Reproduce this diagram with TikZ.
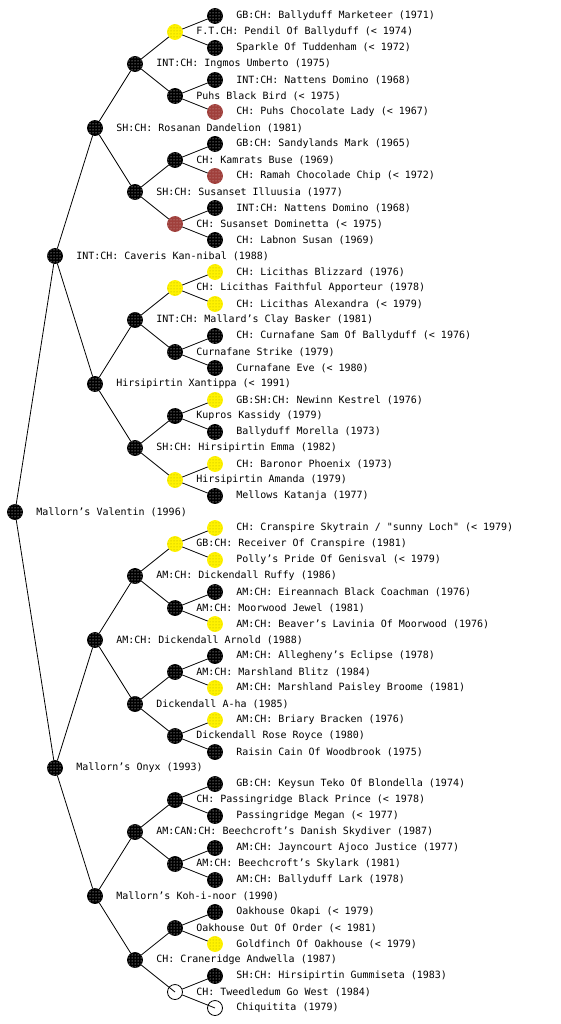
\documentclass[tikz,border=0pt]{standalone}
\usepackage{fontspec}
\newfontfamily\pedfont{DejaVu Sans Mono}
\usetikzlibrary{patterns}
\definecolor{chocred}{RGB}{160,64,60}

\begin{document}
\begin{tikzpicture}[
  x=1pt, y=1pt,
  line width=0.8pt,
  ball/.style={circle, minimum size=15pt, inner sep=0pt},
  dog/.style={ball, draw=black, fill=black, postaction={pattern=dots, pattern color=white}},
  gold/.style={ball, draw=yellow, fill=yellow, postaction={pattern=dots, pattern color=olive!70}},
  choc/.style={ball, draw=chocred, fill=chocred, postaction={pattern=dots, pattern color=white!60!chocred}},
  blank/.style={ball, draw=black},
  every label/.style={font=\pedfont, inner sep=0pt},
  label distance=13pt,
  grow'=right,
  level distance=40pt,
  level 1/.style={sibling distance=512pt},
  level 2/.style={sibling distance=256pt},
  level 3/.style={sibling distance=128pt},
  level 4/.style={sibling distance=64pt},
  level 5/.style={sibling distance=32pt}
]
\useasboundingbox (0,0) rectangle (560,-1024);
\node[dog, label={right:{Mallorn’s Valentin (1996)}}] (dog) at (15,-512) {}
  child {node[dog, label={right:{INT:CH: Caveris Kan-nibal (1988)}}] (s) {}
    child {node[dog, label={right:{SH:CH: Rosanan Dandelion (1981)}}] (ss) {}
      child {node[dog, label={right:{INT:CH: Ingmos Umberto (1975)}}] (sss) {}
        child {node[gold, label={right:{F.T.CH: Pendil Of Ballyduff (< 1974)}}] (ssss) {}
          child {node[dog, label={right:{GB:CH: Ballyduff Marketeer (1971)}}] (sssss) {}}
          child {node[dog, label={right:{Sparkle Of Tuddenham (< 1972)}}] (ssssd) {}}
        }
        child {node[dog, label={right:{Puhs Black Bird (< 1975)}}] (sssd) {}
          child {node[dog, label={right:{INT:CH: Nattens Domino (1968)}}] (sssds) {}}
          child {node[choc, label={right:{CH: Puhs Chocolate Lady (< 1967)}}] (sssdd) {}}
        }
      }
      child {node[dog, label={right:{SH:CH: Susanset Illuusia (1977)}}] (ssd) {}
        child {node[dog, label={right:{CH: Kamrats Buse (1969)}}] (ssds) {}
          child {node[dog, label={right:{GB:CH: Sandylands Mark (1965)}}] (ssdss) {}}
          child {node[choc, label={right:{CH: Ramah Chocolade Chip (< 1972)}}] (ssdsd) {}}
        }
        child {node[choc, label={right:{CH: Susanset Dominetta (< 1975)}}] (ssdd) {}
          child {node[dog, label={right:{INT:CH: Nattens Domino (1968)}}] (ssdds) {}}
          child {node[dog, label={right:{CH: Labnon Susan (1969)}}] (ssddd) {}}
        }
      }
    }
    child {node[dog, label={right:{Hirsipirtin Xantippa (< 1991)}}] (sd) {}
      child {node[dog, label={right:{INT:CH: Mallard’s Clay Basker (1981)}}] (sds) {}
        child {node[gold, label={right:{CH: Licithas Faithful Apporteur (1978)}}] (sdss) {}
          child {node[gold, label={right:{CH: Licithas Blizzard (1976)}}] (sdsss) {}}
          child {node[gold, label={right:{CH: Licithas Alexandra (< 1979)}}] (sdssd) {}}
        }
        child {node[dog, label={right:{Curnafane Strike (1979)}}] (sdsd) {}
          child {node[dog, label={right:{CH: Curnafane Sam Of Ballyduff (< 1976)}}] (sdsds) {}}
          child {node[dog, label={right:{Curnafane Eve (< 1980)}}] (sdsdd) {}}
        }
      }
      child {node[dog, label={right:{SH:CH: Hirsipirtin Emma (1982)}}] (sdd) {}
        child {node[dog, label={right:{Kupros Kassidy (1979)}}] (sdds) {}
          child {node[gold, label={right:{GB:SH:CH: Newinn Kestrel (1976)}}] (sddss) {}}
          child {node[dog, label={right:{Ballyduff Morella (1973)}}] (sddsd) {}}
        }
        child {node[gold, label={right:{Hirsipirtin Amanda (1979)}}] (sddd) {}
          child {node[gold, label={right:{CH: Baronor Phoenix (1973)}}] (sddds) {}}
          child {node[dog, label={right:{Mellows Katanja (1977)}}] (sdddd) {}}
        }
      }
    }
  }
  child {node[dog, label={right:{Mallorn’s Onyx (1993)}}] (d) {}
    child {node[dog, label={right:{AM:CH: Dickendall Arnold (1988)}}] (ds) {}
      child {node[dog, label={right:{AM:CH: Dickendall Ruffy (1986)}}] (dss) {}
        child {node[gold, label={right:{GB:CH: Receiver Of Cranspire (1981)}}] (dsss) {}
          child {node[gold, label={right:{CH: Cranspire Skytrain / "sunny Loch" (< 1979)}}] (dssss) {}}
          child {node[gold, label={right:{Polly’s Pride Of Genisval (< 1979)}}] (dsssd) {}}
        }
        child {node[dog, label={right:{AM:CH: Moorwood Jewel (1981)}}] (dssd) {}
          child {node[dog, label={right:{AM:CH: Eireannach Black Coachman (1976)}}] (dssds) {}}
          child {node[gold, label={right:{AM:CH: Beaver’s Lavinia Of Moorwood (1976)}}] (dssdd) {}}
        }
      }
      child {node[dog, label={right:{Dickendall A-ha (1985)}}] (dsd) {}
        child {node[dog, label={right:{AM:CH: Marshland Blitz (1984)}}] (dsds) {}
          child {node[dog, label={right:{AM:CH: Allegheny’s Eclipse (1978)}}] (dsdss) {}}
          child {node[gold, label={right:{AM:CH: Marshland Paisley Broome (1981)}}] (dsdsd) {}}
        }
        child {node[dog, label={right:{Dickendall Rose Royce (1980)}}] (dsdd) {}
          child {node[gold, label={right:{AM:CH: Briary Bracken (1976)}}] (dsdds) {}}
          child {node[dog, label={right:{Raisin Cain Of Woodbrook (1975)}}] (dsddd) {}}
        }
      }
    }
    child {node[dog, label={right:{Mallorn’s Koh-i-noor (1990)}}] (dd) {}
      child {node[dog, label={right:{AM:CAN:CH: Beechcroft’s Danish Skydiver (1987)}}] (dds) {}
        child {node[dog, label={right:{CH: Passingridge Black Prince (< 1978)}}] (ddss) {}
          child {node[dog, label={right:{GB:CH: Keysun Teko Of Blondella (1974)}}] (ddsss) {}}
          child {node[dog, label={right:{Passingridge Megan (< 1977)}}] (ddssd) {}}
        }
        child {node[dog, label={right:{AM:CH: Beechcroft’s Skylark (1981)}}] (ddsd) {}
          child {node[dog, label={right:{AM:CH: Jayncourt Ajoco Justice (1977)}}] (ddsds) {}}
          child {node[dog, label={right:{AM:CH: Ballyduff Lark (1978)}}] (ddsdd) {}}
        }
      }
      child {node[dog, label={right:{CH: Craneridge Andwella (1987)}}] (ddd) {}
        child {node[dog, label={right:{Oakhouse Out Of Order (< 1981)}}] (ddds) {}
          child {node[dog, label={right:{Oakhouse Okapi (< 1979)}}] (dddss) {}}
          child {node[gold, label={right:{Goldfinch Of Oakhouse (< 1979)}}] (dddsd) {}}
        }
        % unknown parents: open circles, edge runs into the centre
        child[edge from parent path={(\tikzparentnode) -- (\tikzchildnode.center)}] {node[blank, label={right:{CH: Tweedledum Go West (1984)}}] (dddd) {}
          child {node[dog, label={right:{SH:CH: Hirsipirtin Gummiseta (1983)}}] (dddds) {}}
          child[edge from parent path={(\tikzparentnode) -- (\tikzchildnode.center)}] {node[blank, label={right:{Chiquitita (1979)}}] (ddddd) {}}
        }
      }
    }
  };
\end{tikzpicture}
\end{document}
